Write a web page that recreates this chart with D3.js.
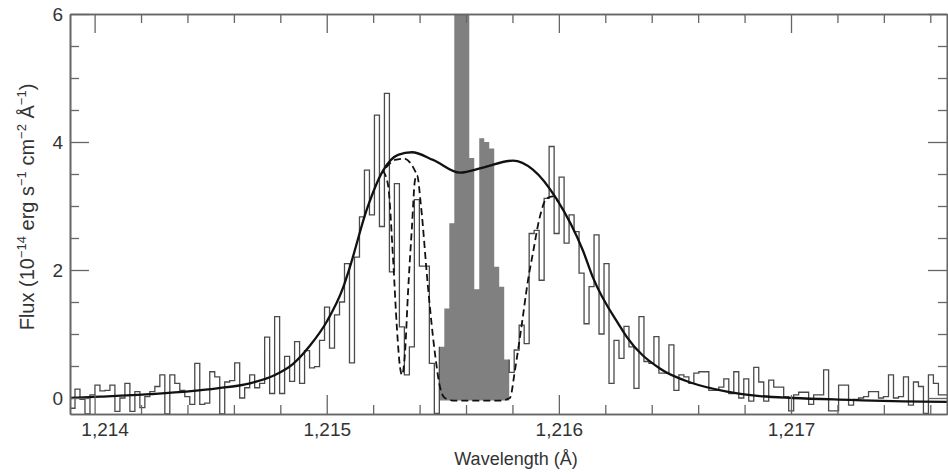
<!DOCTYPE html>
<html>
<head>
<meta charset="utf-8">
<script src="https://cdn.jsdelivr.net/npm/d3@7"></script>
<style>
  html, body { margin: 0; padding: 0; background: #fff; }
  svg { display: block; }
  text { font-family: "Liberation Sans", Arial, Helvetica, sans-serif; fill: #333; }
</style>
</head>
<body>
<div id="chart"></div>
<script>
// observed spectrum, binned (value per bin, 10^-14 erg s^-1 cm^-2 A^-1)
const binStart = 1213.894;
const binWidth = 0.0215;
const flux = [
  -0.16, 0.14, -0.02, -0.25, 0.05, 0.2, 0.11, 0.12, 0.2, -0.21,
  0.0, 0.23, -0.21, 0.1, -0.15, 0.02, 0.1, 0.18, 0.36, -0.25,
  0.36, 0.23, 0.12, 0.02, -0.1, 0.54, -0.1, -0.08, 0.41, 0.33,
  -0.25, 0.25, 0.27, 0.55, 0.0, 0.16, 0.36, 0.16, 0.23, 0.95,
  0.07, 1.27, 0.07, 0.65, 0.26, 0.88, 0.23, 0.74, 0.47, 0.49,
  0.9, 1.42, 0.78, 1.3, 1.5, 2.1, 0.55, 2.2, 2.83, 3.56,
  2.86, 4.42, 2.68, 4.76, 1.97, 3.35, 1.11, 0.36, 0.8, 3.1,
  2.06, 2.06, 0.54, -0.24,
  // geocoronal bins (shaded)
  0.8, 1.4, 2.73, 6.5, 6.5, 6.5, 3.75, 1.7, 4.06, 4.0,
  3.9, 2.05, 1.74, 0.6,
  // red side
  0.4, 0.75, 1.14, 0.85, 2.57, 2.62, 1.84, 3.12, 3.93, 2.57,
  3.45, 2.42, 2.86, 2.6, 1.95, 1.16, 1.74, 2.55, 1.0, 2.1,
  0.23, 0.9, 0.62, 1.12, 0.8, 0.15, 1.27, 0.57, 0.54, 0.96,
  0.39, 0.39, 0.83, 0.12, 0.36, 0.33, 0.23, 0.39, 0.41, 0.41,
  0.12, 0.12, 0.17, 0.3, 0.07, 0.41, 0.0, 0.3, -0.05, 0.48,
  0.25, -0.05, 0.28, 0.17, 0.17, 0.02, -0.2, 0.05, 0.09, 0.09,
  -0.1, 0.05, 0.05, 0.44, -0.2, -0.2, 0.2, 0.2, -0.11, -0.02,
  0.0, 0.02, 0.1, 0.1, 0.0, 0.02, 0.36, 0.0, 0.02, 0.33,
  -0.11, 0.25, 0.18, -0.24, 0.36, 0.23, 0.05, 0.05
];
const geoFirst = 74, geoLast = 87;   // bins contaminated by geocoronal emission
const geoFloor = -0.04;

// intrinsic profile (solid)
const fitWave = [1213.894, 1214.023, 1214.239, 1214.527, 1214.669, 1214.777, 1214.854, 1214.928,
  1215.001, 1215.070, 1215.100, 1215.173, 1215.242, 1215.307, 1215.367, 1215.458, 1215.574,
  1215.673, 1215.802, 1215.888, 1215.992, 1216.104, 1216.147, 1216.263, 1216.293, 1216.435,
  1216.577, 1216.724, 1216.866, 1217.008, 1217.253, 1217.439, 1217.672];
const fitFlux = [0.0, 0.02, 0.06, 0.15, 0.23, 0.36, 0.53, 0.82,
  1.2, 1.72, 2.05, 2.95, 3.55, 3.80, 3.84, 3.72, 3.52,
  3.60, 3.71, 3.57, 3.1, 2.3, 1.88, 1.12, 0.95, 0.46,
  0.23, 0.1, 0.03, 0.0, -0.03, -0.05, -0.06];

// profile after H I + D I absorption (dashed)
const absWave = [1215.242, 1215.264, 1215.286, 1215.302, 1215.315, 1215.324, 1215.337, 1215.350,
  1215.367, 1215.380, 1215.389, 1215.406, 1215.436, 1215.466, 1215.488, 1215.509, 1215.552,
  1215.746, 1215.789, 1215.811, 1215.841, 1215.867, 1215.888, 1215.918, 1215.948, 1215.974, 1215.996];
const absFlux = [3.55, 3.33, 2.16, 1.11, 0.5, 0.36, 0.7, 1.64,
  2.67, 3.4, 3.48, 3.0, 1.74, 0.7, 0.17, 0.0, -0.04,
  -0.04, 0.0, 0.44, 1.17, 1.84, 2.26, 2.83, 3.12, 3.15, 3.07];

// H I only (dashed, near the blue peak)
const hWave = [1215.255, 1215.294, 1215.333, 1215.363, 1215.389];
const hFlux = [3.6, 3.72, 3.74, 3.66, 3.48];

const xMajor = [1214, 1215, 1216, 1217];
const yMajor = [0, 2, 4, 6];

const margin = { left: 70, right: 1, top: 14, bottom: 60 };
const W = 948, H = 474;
const width = W - margin.left - margin.right;
const height = H - margin.top - margin.bottom;

const x = d3.scaleLinear().domain([1213.894, 1217.672]).range([0, width]);
const y = d3.scaleLinear().domain([-0.25, 6]).range([height, 0]);

const svg = d3.select("#chart").append("svg")
  .attr("width", W).attr("height", H);

svg.append("defs").append("clipPath").attr("id", "clip")
  .append("rect").attr("width", width).attr("height", height);

const g = svg.append("g").attr("transform", `translate(${margin.left},${margin.top})`);
const plot = g.append("g").attr("clip-path", "url(#clip)");

const edge = i => binStart + i * binWidth;

// shaded geocoronal bins
const geoPts = [];
for (let i = geoFirst; i <= geoLast; i++) {
  geoPts.push([edge(i), flux[i]], [edge(i + 1), flux[i]]);
}
plot.append("path")
  .datum(geoPts)
  .attr("fill", "#808080")
  .attr("d", d3.area().x(d => x(d[0])).y0(y(geoFloor)).y1(d => y(d[1])));

// histogram outline, left and right of the shaded bins
function stepPts(a, b) {
  const pts = [];
  if (a > 0) pts.push([edge(a), flux[a - 1]]);
  for (let i = a; i <= b; i++) pts.push([edge(i), flux[i]], [edge(i + 1), flux[i]]);
  if (b + 1 < flux.length) pts.push([edge(b + 1), flux[b + 1]]);
  return pts;
}
const stepLine = d3.line().x(d => x(d[0])).y(d => y(d[1]));
[[0, geoFirst - 1], [geoLast + 1, flux.length - 1]].forEach(([a, b]) => {
  plot.append("path")
    .datum(stepPts(a, b))
    .attr("fill", "none")
    .attr("stroke", "#4a4a4a")
    .attr("stroke-width", 1.3)
    .attr("d", stepLine);
});

const curve = d3.line().x(d => x(d[0])).y(d => y(d[1])).curve(d3.curveMonotoneX);

plot.append("path")
  .datum(fitWave.map((w, i) => [w, fitFlux[i]]))
  .attr("fill", "none")
  .attr("stroke", "#111")
  .attr("stroke-width", 2.3)
  .attr("d", curve);

[[absWave, absFlux], [hWave, hFlux]].forEach(([wv, fv]) => {
  plot.append("path")
    .datum(wv.map((w, i) => [w, fv[i]]))
    .attr("fill", "none")
    .attr("stroke", "#111")
    .attr("stroke-width", 1.8)
    .attr("stroke-dasharray", "7,4")
    .attr("d", curve);
});

// axes: ticks inward on all four sides
const xMinor = d3.range(1214.2, 1217.7, 0.2).map(v => +v.toFixed(1)).filter(v => !xMajor.includes(v));
const yMinor = d3.range(0.5, 6, 0.5).filter(v => !yMajor.includes(v));

function frame(sel) {
  sel.select(".domain").attr("stroke", "#666").attr("stroke-width", 1.6);
  sel.selectAll(".tick line").attr("stroke", "#666").attr("stroke-width", 1.3);
  sel.selectAll("text").style("font-size", "19px").attr("fill", "#333");
}

const axB = g.append("g").attr("transform", `translate(0,${height})`)
  .call(d3.axisBottom(x).tickValues(xMajor).tickSize(-19).tickSizeOuter(0).tickPadding(9).tickFormat(d3.format(",")))
  .call(frame);
axB.selectAll(".tick text").filter(d => d === 1214).attr("dx", 10);
g.append("g").attr("transform", `translate(0,${height})`)
  .call(d3.axisBottom(x).tickValues(xMinor).tickSize(-9).tickSizeOuter(0).tickFormat(""))
  .call(frame);

g.append("g")
  .call(d3.axisTop(x).tickValues(xMajor).tickSize(-19).tickSizeOuter(0).tickFormat(""))
  .call(frame);
g.append("g")
  .call(d3.axisTop(x).tickValues(xMinor).tickSize(-9).tickSizeOuter(0).tickFormat(""))
  .call(frame);

g.append("g")
  .call(d3.axisLeft(y).tickValues(yMajor).tickSize(-19).tickSizeOuter(0).tickPadding(7).tickFormat(d3.format("d")))
  .call(frame);
g.append("g")
  .call(d3.axisLeft(y).tickValues(yMinor).tickSize(-9).tickSizeOuter(0).tickFormat(""))
  .call(frame);

g.append("g").attr("transform", `translate(${width},0)`)
  .call(d3.axisRight(y).tickValues(yMajor).tickSize(-19).tickSizeOuter(0).tickFormat(""))
  .call(frame);
g.append("g").attr("transform", `translate(${width},0)`)
  .call(d3.axisRight(y).tickValues(yMinor).tickSize(-9).tickSizeOuter(0).tickFormat(""))
  .call(frame);

// axis titles
svg.append("text")
  .attr("x", 516).attr("y", 465)
  .attr("text-anchor", "middle")
  .style("font-size", "18px")
  .text("Wavelength (Å)");

const yt = svg.append("text")
  .attr("transform", "translate(34,207) rotate(-90)")
  .attr("text-anchor", "middle")
  .style("font-size", "20px");
const parts = [["Flux (10", 0], ["−14", 1], [" erg s", 0], ["−1", 1], [" cm", 0], ["−2", 1], [" Å", 0], ["−1", 1], [")", 0]];
let up = false;
parts.forEach(([t, sup]) => {
  const ts = yt.append("tspan").text(t);
  if (sup && !up) { ts.attr("dy", -8).style("font-size", "13px"); up = true; }
  else if (sup) { ts.style("font-size", "13px"); }
  else if (up) { ts.attr("dy", 8); up = false; }
});
</script>
</body>
</html>
